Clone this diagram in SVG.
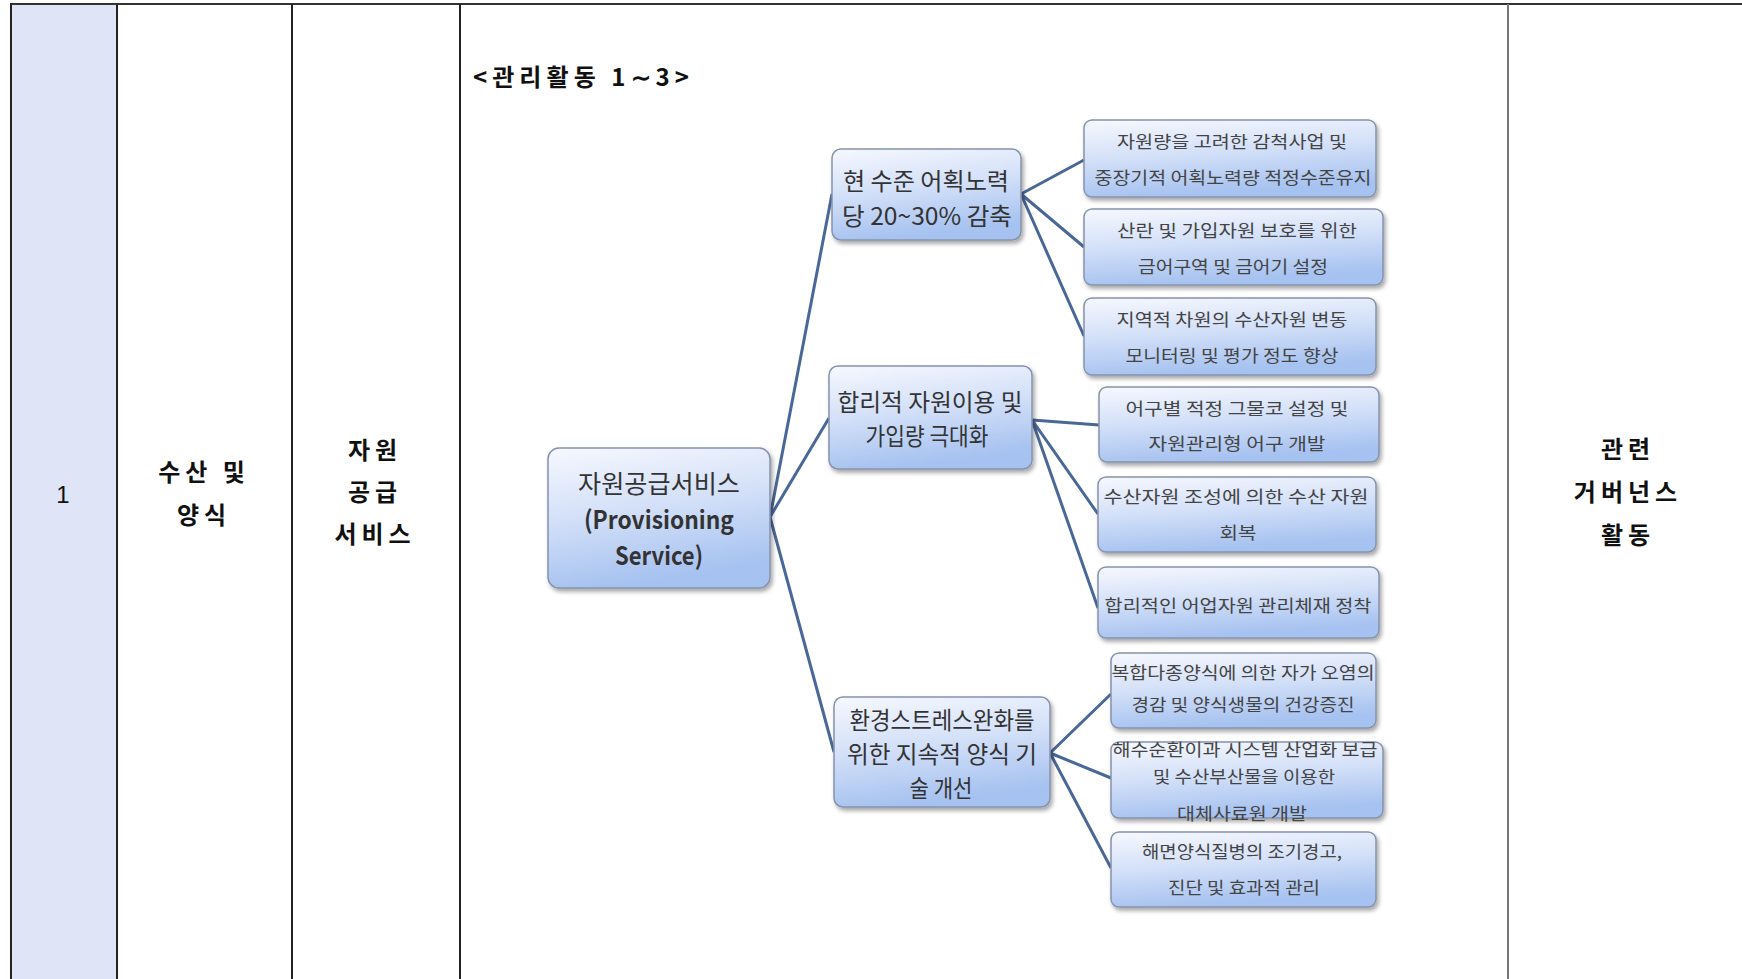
<svg xmlns="http://www.w3.org/2000/svg" width="1742" height="979" viewBox="0 0 1742 979">
<style>
.cell{font-family:"Noto Sans CJK KR","Noto Sans",sans-serif;font-weight:bold;font-size:24px;fill:#111;text-anchor:middle}
.num{font-family:"Liberation Sans",Arial,sans-serif;font-size:24px;fill:#111;text-anchor:middle}
.title{font-family:"Noto Sans CJK KR","Noto Sans",sans-serif;font-weight:bold;font-size:24px;fill:#111}
.box{fill:url(#g);stroke:#8593ad;stroke-width:1.5;filter:url(#sh)}
.t1{font-family:"Noto Sans CJK KR",sans-serif;font-size:24px;fill:#333;text-anchor:middle}
.t0{font-family:"Noto Sans CJK KR",sans-serif;font-size:25px;fill:#333;text-anchor:middle}
.t2{font-family:"Noto Sans CJK KR",sans-serif;font-size:17px;fill:#444;text-anchor:middle}
.ln{stroke:#4a6897;stroke-width:3;fill:none}
.vl{stroke:#222;stroke-width:2}
</style>
<defs>
<linearGradient id="g" x1="0" y1="0" x2="0.25" y2="1">
<stop offset="0" stop-color="#f6f8fe"/>
<stop offset="0.5" stop-color="#d3e0f8"/>
<stop offset="1" stop-color="#a6c2f0"/>
</linearGradient>
<filter id="sh" x="-10%" y="-10%" width="125%" height="130%">
<feDropShadow dx="2" dy="3" stdDeviation="2" flood-color="#000" flood-opacity="0.35"/>
</filter>
</defs>
<rect width="1742" height="979" fill="#fff"/>
<g id="table">
<rect x="11" y="4" width="106" height="980" fill="#dfe4f7"/>
<line x1="10" y1="4" x2="1742" y2="4" stroke="#333" stroke-width="2"/>
<line class="vl" x1="11" y1="4" x2="11" y2="979"/>
<line class="vl" x1="117" y1="4" x2="117" y2="979"/>
<line class="vl" x1="292" y1="4" x2="292" y2="979"/>
<line class="vl" x1="460" y1="4" x2="460" y2="979"/>
<line x1="1508" y1="4" x2="1508" y2="979" stroke="#777" stroke-width="2"/>
</g>
<g id="col1"><text class="num" x="63" y="503">1</text></g>
<g id="col2"><text class="cell" x="204" y="481" letter-spacing="5">수산 및</text><text class="cell" x="204" y="524" letter-spacing="5">양식</text></g>
<g id="col3"><text class="cell" x="375" y="459" letter-spacing="5">자원</text><text class="cell" x="375" y="501" letter-spacing="5">공급</text><text class="cell" x="375" y="543" letter-spacing="5">서비스</text></g>
<g id="col5"><text class="cell" x="1628" y="458" letter-spacing="5">관련</text><text class="cell" x="1628" y="501" letter-spacing="5">거버넌스</text><text class="cell" x="1628" y="544" letter-spacing="5">활동</text></g>
<g id="title"><text class="title" x="473" y="86" textLength="216" lengthAdjust="spacing">&lt;관리활동 1∼3&gt;</text></g>
<g id="connectors">
<path class="ln" d="M770 517 L832 194 M770 517 L829 418 M770 517 L834 752"/>
<path class="ln" d="M1021 194 L1084 160 M1021 194 L1084 247 M1021 194 L1084 336"/>
<path class="ln" d="M1032 420 L1099 425 M1032 420 L1098 514 M1032 420 L1098 608"/>
<path class="ln" d="M1050 753 L1111 694 M1050 753 L1111 778 M1050 753 L1111 868"/>
</g>
<g id="root"><rect class="box" x="548" y="448" width="222" height="140" rx="11"/>
<text class="t0" x="659" y="493" textLength="162" lengthAdjust="spacingAndGlyphs">자원공급서비스</text>
<text class="t0" x="659" y="529" font-weight="bold" font-family="Liberation Sans,sans-serif" textLength="150" lengthAdjust="spacingAndGlyphs">(Provisioning</text>
<text class="t0" x="659" y="565" font-weight="bold" font-family="Liberation Sans,sans-serif" textLength="88" lengthAdjust="spacingAndGlyphs">Service)</text></g>
<g id="nA"><rect class="box" x="832" y="149" width="189" height="91" rx="9"/>
<text class="t1" x="926" y="190" textLength="166" lengthAdjust="spacingAndGlyphs">현 수준 어획노력</text>
<text class="t1" x="927" y="225" textLength="170" lengthAdjust="spacingAndGlyphs">당 20~30% 감축</text></g>
<g id="nB"><rect class="box" x="829" y="366" width="203" height="103" rx="9"/>
<text class="t1" x="930" y="411" textLength="185" lengthAdjust="spacingAndGlyphs">합리적 자원이용 및</text>
<text class="t1" x="927" y="445" textLength="123" lengthAdjust="spacingAndGlyphs">가입량 극대화</text></g>
<g id="nC"><rect class="box" x="834" y="697" width="216" height="110" rx="9"/>
<text class="t1" x="942" y="729" textLength="185" lengthAdjust="spacingAndGlyphs">환경스트레스완화를</text>
<text class="t1" x="942" y="763" textLength="190" lengthAdjust="spacingAndGlyphs">위한 지속적 양식 기</text>
<text class="t1" x="941" y="797" textLength="63" lengthAdjust="spacingAndGlyphs">술 개선</text></g>
<g id="n1"><rect class="box" x="1084" y="120" width="292" height="77" rx="8"/>
<text class="t2" x="1232" y="148" textLength="230" lengthAdjust="spacingAndGlyphs">자원량을 고려한 감척사업 및</text>
<text class="t2" x="1233" y="184" textLength="277" lengthAdjust="spacingAndGlyphs">중장기적 어획노력량 적정수준유지</text></g>
<g id="n2"><rect class="box" x="1084" y="209" width="299" height="76" rx="8"/>
<text class="t2" x="1237" y="237" textLength="240" lengthAdjust="spacingAndGlyphs">산란 및 가입자원 보호를 위한</text>
<text class="t2" x="1233" y="273" textLength="190" lengthAdjust="spacingAndGlyphs">금어구역 및 금어기 설정</text></g>
<g id="n3"><rect class="box" x="1084" y="298" width="292" height="77" rx="8"/>
<text class="t2" x="1232" y="326" textLength="231" lengthAdjust="spacingAndGlyphs">지역적 차원의 수산자원 변동</text>
<text class="t2" x="1232" y="362" textLength="213" lengthAdjust="spacingAndGlyphs">모니터링 및 평가 정도 향상</text></g>
<g id="n4"><rect class="box" x="1099" y="387" width="280" height="75" rx="8"/>
<text class="t2" x="1237" y="415" textLength="223" lengthAdjust="spacingAndGlyphs">어구별 적정 그물코 설정 및</text>
<text class="t2" x="1237" y="450" textLength="177" lengthAdjust="spacingAndGlyphs">자원관리형 어구 개발</text></g>
<g id="n5"><rect class="box" x="1098" y="477" width="278" height="75" rx="8"/>
<text class="t2" x="1236" y="503" textLength="265" lengthAdjust="spacingAndGlyphs">수산자원 조성에 의한 수산 자원</text>
<text class="t2" x="1238" y="539" textLength="37" lengthAdjust="spacingAndGlyphs">회복</text></g>
<g id="n6"><rect class="box" x="1098" y="567" width="281" height="71" rx="8"/>
<text class="t2" x="1238" y="612" textLength="267" lengthAdjust="spacingAndGlyphs">합리적인 어업자원 관리체재 정착</text></g>
<g id="n7"><rect class="box" x="1111" y="653" width="265" height="75" rx="8"/>
<text class="t2" x="1243" y="679" textLength="263" lengthAdjust="spacingAndGlyphs">복합다종양식에 의한 자가 오염의</text>
<text class="t2" x="1243" y="711" textLength="223" lengthAdjust="spacingAndGlyphs">경감 및 양식생물의 건강증진</text></g>
<g id="n8"><rect class="box" x="1111" y="742" width="272" height="76" rx="8"/>
<text class="t2" x="1245" y="756" textLength="265" lengthAdjust="spacingAndGlyphs">해수순환이과 시스템 산업화 보급</text>
<text class="t2" x="1244" y="783" textLength="182" lengthAdjust="spacingAndGlyphs">및 수산부산물을 이용한</text>
<text class="t2" x="1242" y="820" textLength="130" lengthAdjust="spacingAndGlyphs">대체사료원 개발</text></g>
<g id="n9"><rect class="box" x="1111" y="832" width="265" height="75" rx="8"/>
<text class="t2" x="1242" y="858" textLength="200" lengthAdjust="spacingAndGlyphs">해면양식질병의 조기경고,</text>
<text class="t2" x="1244" y="894" textLength="152" lengthAdjust="spacingAndGlyphs">진단 및 효과적 관리</text></g>
</svg>
